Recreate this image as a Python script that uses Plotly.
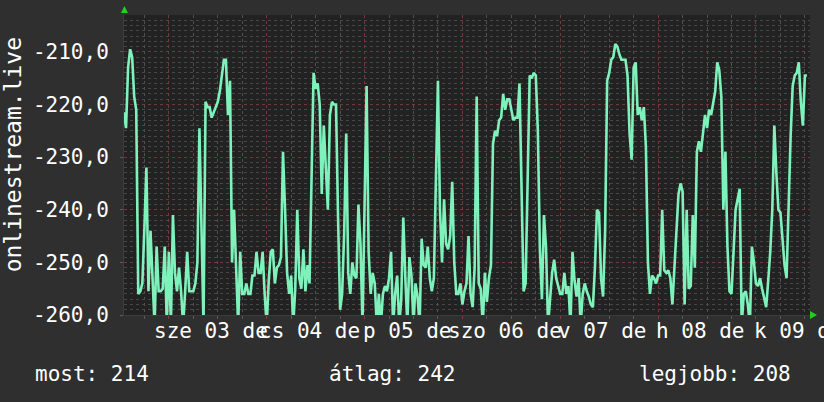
import pandas as pd
import plotly.graph_objects as go

# ---- data (30-minute samples) ----
start_time = "2024-01-02 13:00"
values = [
    -221.5, -224.5, -213, -209.5, -211, -218.5, -221, -256, -255.5, -254,
    -243.5, -232, -255.5, -244, -253, -262, -247, -255.5, -255.5, -255,
    -247, -262, -248, -262, -241, -252, -255.5, -251, -255.5, -262,
    -255.5, -248, -255.5, -255.5, -255.5, -254, -250, -224.5, -245, -262,
    -219.5, -220.5, -220.5, -222.5, -221.5, -220.5, -219.5, -217.5, -214, -211.5,
    -211.5, -222, -215.5, -250, -240, -253, -262, -248, -256, -256,
    -254, -256, -256, -252.5, -252.5, -248, -252, -252, -248, -256,
    -262, -253.5, -248, -247.5, -254, -251, -250.5, -249, -229, -240,
    -252, -256, -252.5, -262, -255,
    -240, -253, -255, -247.5, -255.5, -250.5, -254, -235, -214, -217,
    -216, -220, -237, -224, -233, -240, -222, -219.5, -220, -220,
    -241.5, -259, -256, -244.5, -225.5, -252, -256, -250, -252.5, -253,
    -239, -246.5, -262, -236.5, -216.5, -248, -256, -252, -254, -262,
    -256, -262, -256, -254.5, -255.5, -253, -248, -262, -256, -252.5,
    -262, -257, -241.5, -253, -262, -249, -252.5, -262, -254, -256.5,
    -262, -245.5, -250.5, -251, -247, -253, -255.5, -253, -232, -215.5,
    -240, -250, -238, -246.5, -247.5, -245, -234.7, -250, -256, -256,
    -254, -258, -255.5, -254, -245,
    -256, -258.5, -251, -218.5, -254, -255, -262, -252, -257.5, -253,
    -250.5, -227.5, -225, -226, -223, -222.5, -218, -221, -219, -219,
    -221, -223, -222.5, -222.5, -216, -233, -255.5, -254, -234, -214.5,
    -215, -214, -214.5, -225, -247.5, -257, -241, -247, -262, -256,
    -252, -249.5, -253, -254.5, -256, -256, -252, -256, -254.5, -262,
    -248, -253.5, -256.5, -253, -262, -256, -254, -255.5, -256.5, -258,
    -258.5, -251, -240, -240.5, -253, -256.5, -244, -215.5, -214, -211.5,
    -211, -208.5, -209, -210.5, -211.5, -211.5, -211.5, -214.5, -225.5, -230.5,
    -213, -212, -222, -220.5,
    -223, -220.5, -228, -250, -256, -252.5, -253, -254, -252.5, -252.5,
    -240, -251.5, -252, -251.5, -253, -258, -251, -245.5, -237, -235,
    -236.5, -258, -240, -255, -254.5, -241, -251, -229, -227, -229,
    -226, -222, -224.5, -221, -222, -219.5, -217.5, -212, -213.5, -218.5,
    -240, -229, -247, -255.5, -256, -248, -240, -238, -236, -262,
    -256, -255.5, -258, -262, -247, -250, -254, -254.5, -253, -255,
    -256.5, -258.5, -253.5, -248, -240, -224, -233, -240, -240.5, -246,
    -250.5, -253, -238, -226, -216.5, -214.5, -214, -212, -219.5, -224,
    -214.5, -214.5,
]
times = pd.date_range(start=start_time, periods=len(values), freq="30min")

y_ticks = [-260, -250, -240, -230, -220, -210]
y_ticktext = ["-260,0", "-250,0", "-240,0", "-230,0", "-220,0", "-210,0"]

day_label_times = ["2024-01-03 10:25", "2024-01-04 10:25", "2024-01-05 10:25",
                   "2024-01-06 10:25", "2024-01-07 10:25", "2024-01-08 10:25",
                   "2024-01-09 10:25"]
day_labels = ["sze 03 de", "cs 04 de", "p 05 de", "szo 06 de", "v 07 de",
              "h 08 de", "k 09 de"]
midnights = pd.date_range("2024-01-03", "2024-01-09", freq="1D")

y_title = "onlinestream.live"
stats = ["most: 214", "átlag: 242", "legjobb: 208"]

x_range = ["2024-01-02 13:00", "2024-01-09 13:15"]
y_range = [-260, -203]

FONT = "DejaVu Sans Mono"
TXT = "#ffffff"

fig = go.Figure()
fig.add_trace(go.Scatter(
    x=times, y=values, mode="lines",
    line=dict(color="#7ff2bc", width=2.6, shape="linear"),
    hoverinfo="skip", showlegend=False,
))

fig.update_layout(
    width=824, height=402,
    margin=dict(l=124, r=14, t=15, b=87),
    paper_bgcolor="#2f2f2f",
    plot_bgcolor="#222222",
    font=dict(family=FONT, size=21, color=TXT),
    showlegend=False,
)

fig.update_xaxes(
    range=x_range, type="date",
    tickvals=list(midnights), ticktext=["" for _ in midnights],
    showgrid=True, gridcolor="#7a3636", griddash="dot", gridwidth=1,
    ticks="outside", ticklen=3, tickcolor="#8a3a3a",
    minor=dict(dtick=6 * 3600 * 1000, showgrid=True, gridcolor="#505050",
               griddash="dot", gridwidth=1, ticks="outside", ticklen=3,
               tickcolor="#5a5a5a"),
    showline=True, linecolor="#3c3c3c", linewidth=1,
    zeroline=False, fixedrange=True,
)

fig.update_yaxes(
    range=y_range,
    tickvals=y_ticks, ticktext=y_ticktext,
    tickfont=dict(family=FONT, size=21, color=TXT),
    showgrid=True, gridcolor="#7a3636", griddash="dot", gridwidth=1,
    ticks="outside", ticklen=3, tickcolor="#5a5a5a",
    ticklabelstandoff=7,
    minor=dict(dtick=1, showgrid=True, gridcolor="#474747", griddash="dot",
               gridwidth=1),
    showline=True, linecolor="#3c3c3c", linewidth=1,
    zeroline=False, fixedrange=True,
)

annotations = []
for t, lab in zip(day_label_times, day_labels):
    annotations.append(dict(
        x=t, y=-0.053, xref="x", yref="paper", text=lab, showarrow=False,
        xanchor="center", yanchor="middle",
        font=dict(family=FONT, size=21, color=TXT),
    ))
annotations.append(dict(
    x=-0.162, y=0.535, xref="paper", yref="paper", text=y_title, showarrow=False,
    textangle=-90, xanchor="center", yanchor="middle",
    font=dict(family=FONT, size=23, color=TXT),
))
for xp, s in zip([-0.1327, 0.296, 0.748], stats):
    annotations.append(dict(
        x=xp, y=-0.197, xref="paper", yref="paper", text=s, showarrow=False,
        xanchor="left", yanchor="middle",
        font=dict(family=FONT, size=21, color=TXT),
    ))
fig.update_layout(annotations=annotations)

# green axis arrows (rrdtool style)
fig.add_shape(type="path", xref="paper", yref="paper",
              path="M -0.0045 1.0067 L 0.0058 1.0067 L 0.0007 1.03 Z",
              fillcolor="#1fd11f", line=dict(width=0))
fig.add_shape(type="path", xref="paper", yref="paper",
              path="M 1.0 0.0133 L 1.0 -0.0133 L 1.0102 0.0 Z",
              fillcolor="#1fd11f", line=dict(width=0))

fig.write_html("out.html",
               config={"displayModeBar": False, "staticPlot": True},
               post_script="document.body.style.margin='0px';"
                           "document.body.style.background='#2f2f2f';")
